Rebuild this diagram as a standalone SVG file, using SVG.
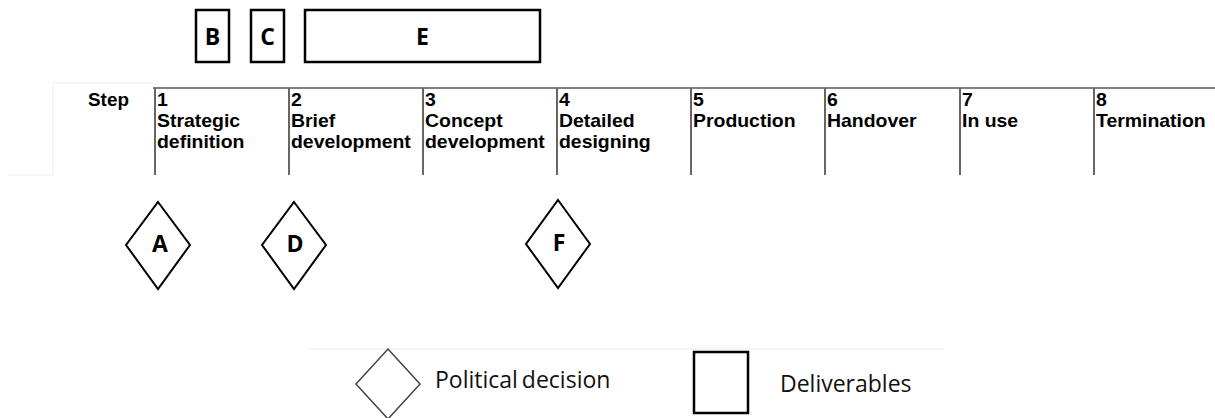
<svg xmlns="http://www.w3.org/2000/svg" width="1215" height="418" viewBox="0 0 1215 418">
<style>
  .box{fill:#fff;stroke:#000;stroke-width:2.5}
  .dia{fill:#fff;stroke:#000;stroke-width:2}
  .lbl{font-family:"Open Sans","Liberation Sans",sans-serif;font-weight:bold;font-size:23px;fill:#000;text-anchor:middle}
  .step{font-family:"Liberation Sans",Arial,sans-serif;font-weight:bold;font-size:18px;fill:#000}
  .div{stroke:#666;stroke-width:2}
  .faint{stroke:#eeeeee;stroke-width:1;fill:none}
  .leg{font-family:"Open Sans","Liberation Sans",sans-serif;font-size:23px;fill:#111}
</style>
<rect width="1215" height="418" fill="#fff"/>
<g id="faint">
  <path class="faint" d="M53 83 H153 M53 83 V175 M8 175 H53 M308 349 H945"/>
</g>
<g id="timeline">
  <line x1="153" y1="88" x2="1215" y2="88" stroke="#808080" stroke-width="2"/>
  <g class="div">
    <line x1="155" y1="88" x2="155" y2="175"/>
    <line x1="289" y1="88" x2="289" y2="175"/>
    <line x1="423" y1="88" x2="423" y2="175"/>
    <line x1="557" y1="88" x2="557" y2="175"/>
    <line x1="691" y1="88" x2="691" y2="175"/>
    <line x1="825" y1="88" x2="825" y2="175"/>
    <line x1="960" y1="88" x2="960" y2="175"/>
    <line x1="1094" y1="88" x2="1094" y2="175"/>
  </g>
  <g id="stepHead" transform="translate(88,0) scale(1.05,1)"><text class="step" x="0" y="106" font-size="15">Step</text></g>
  <g id="step1" transform="translate(157,0) scale(1.08,1)"><text class="step" x="0" y="106">1</text><text class="step" x="0" y="127">Strategic</text><text class="step" x="0" y="148">definition</text></g>
  <g id="step2" transform="translate(291,0) scale(1.08,1)"><text class="step" x="0" y="106">2</text><text class="step" x="0" y="127">Brief</text><text class="step" x="0" y="148">development</text></g>
  <g id="step3" transform="translate(425,0) scale(1.08,1)"><text class="step" x="0" y="106">3</text><text class="step" x="0" y="127">Concept</text><text class="step" x="0" y="148">development</text></g>
  <g id="step4" transform="translate(559,0) scale(1.08,1)"><text class="step" x="0" y="106">4</text><text class="step" x="0" y="127">Detailed</text><text class="step" x="0" y="148">designing</text></g>
  <g id="step5" transform="translate(693,0) scale(1.08,1)"><text class="step" x="0" y="106">5</text><text class="step" x="0" y="127">Production</text></g>
  <g id="step6" transform="translate(827,0) scale(1.08,1)"><text class="step" x="0" y="106">6</text><text class="step" x="0" y="127">Handover</text></g>
  <g id="step7" transform="translate(962,0) scale(1.08,1)"><text class="step" x="0" y="106">7</text><text class="step" x="0" y="127">In use</text></g>
  <g id="step8" transform="translate(1096,0) scale(1.08,1)"><text class="step" x="0" y="106">8</text><text class="step" x="0" y="127">Termination</text></g>
</g>
<g id="B"><rect class="box" x="196" y="10" width="33" height="52"/><text class="lbl" x="212.5" y="45">B</text></g>
<g id="C"><rect class="box" x="251" y="10" width="33" height="52"/><text class="lbl" x="267.5" y="45">C</text></g>
<g id="E"><rect class="box" x="305" y="10" width="235" height="52"/><text class="lbl" x="422.5" y="45">E</text></g>
<g id="A"><polygon class="dia" points="158,202 190,245 158,289 126,245"/><text class="lbl" x="160" y="252">A</text></g>
<g id="D"><polygon class="dia" points="294,202 326,245 294,289 262,245"/><text class="lbl" x="295" y="252">D</text></g>
<g id="F"><polygon class="dia" points="558,200 590,244 558,288 526,244"/><text class="lbl" x="559" y="251">F</text></g>
<g id="connectors"></g>
<g id="legend">
  <polygon points="388,349 420,384 388,419 356,384" fill="#fff" stroke="#444" stroke-width="1.5"/>
  <text class="leg" x="435" y="388" word-spacing="-2">Political decision</text>
  <rect class="box" x="694" y="352" width="54" height="61"/>
  <text class="leg" x="780" y="392" font-size="24">Deliverables</text>
</g>
</svg>
